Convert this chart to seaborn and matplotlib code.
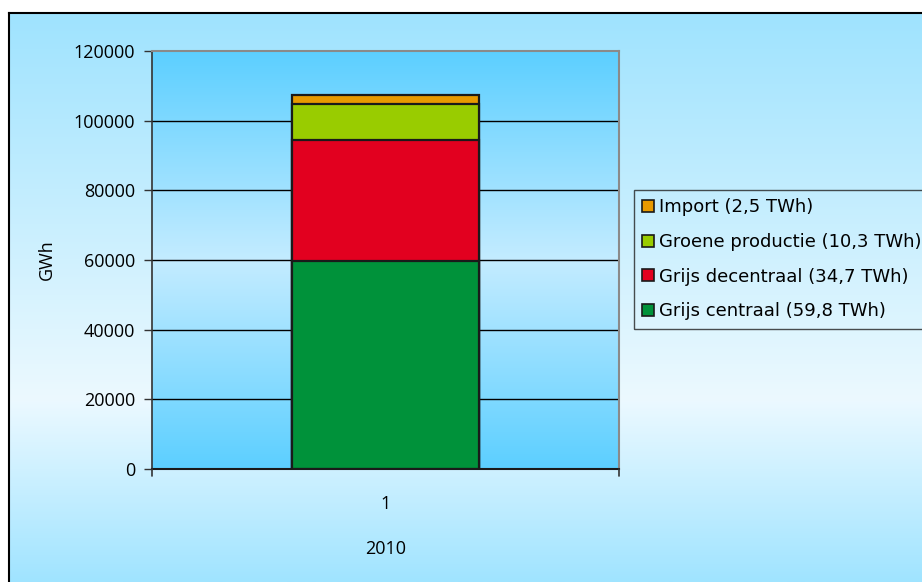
import numpy as np
import pandas as pd
import matplotlib
matplotlib.use("Agg")
import matplotlib.pyplot as plt
from matplotlib.colors import LinearSegmentedColormap
from matplotlib.patches import Patch
import seaborn as sns

# Electricity supply 2010, stacked by source (GWh)
categories = ["1"]
series_names = [
    "Grijs centraal (59,8 TWh)",
    "Grijs decentraal (34,7 TWh)",
    "Groene productie (10,3 TWh)",
    "Import (2,5 TWh)",
]
series_values = [59800, 34700, 10300, 2500]
series_colors = ["#00923a", "#e2001f", "#99cc00", "#e89a00"]
y_ticks = [0, 20000, 40000, 60000, 80000, 100000, 120000]

sns.set_theme(style="white")
plt.rcParams["font.family"] = ["Open Sans", "DejaVu Sans"]
plt.rcParams["text.color"] = "black"
plt.rcParams["axes.labelcolor"] = "black"
plt.rcParams["xtick.color"] = "black"
plt.rcParams["ytick.color"] = "black"

W, H = 922, 582
fig = plt.figure(figsize=(W / 100, H / 100), dpi=100)
fig.patch.set_facecolor("white")

# Outer chart area with vertical gradient and black frame (top/left)
bx0, by_top = 9, 13
bg = fig.add_axes([bx0 / W, 0, 1 - bx0 / W, 1 - by_top / H], zorder=0)
outer = LinearSegmentedColormap.from_list(
    "outer", [(0, "#9fe3fe"), (0.68, "#ecf9ff"), (1, "#a0e4ff")])
grad = np.linspace(0, 1, 256).reshape(-1, 1)
bg.imshow(grad, aspect="auto", cmap=outer, extent=[0, 1, 0, 1], origin="upper")
bg.set_xlim(0, 1)
bg.set_ylim(0, 1)
bg.set_xticks([])
bg.set_yticks([])
for side in ["right", "bottom"]:
    bg.spines[side].set_visible(False)
for side in ["top", "left"]:
    bg.spines[side].set_color("black")
    bg.spines[side].set_linewidth(1.5)

# Plot area
px0, px1, py0, py1 = 152, 619, 51, 469
ax = fig.add_axes([px0 / W, 1 - py1 / H, (px1 - px0) / W, (py1 - py0) / H], zorder=1)
inner = LinearSegmentedColormap.from_list(
    "inner", [(0, "#5ccfff"), (0.5, "#c4ecff"), (1, "#5ccfff")])
ax.imshow(grad, aspect="auto", cmap=inner, extent=[-0.5, 0.5, 0, 120000],
          origin="upper", zorder=0)

# Horizontal gridlines
for t in y_ticks[1:-1]:
    ax.axhline(t, color="black", lw=1.0, zorder=1)

# Stacked bar: draw cumulative totals from the top down
cum = np.cumsum(series_values)
for i in range(len(series_values) - 1, -1, -1):
    d = pd.DataFrame({"cat": categories, "total": [cum[i]]})
    sns.barplot(data=d, x="cat", y="total", color=series_colors[i],
                saturation=1, width=0.40, edgecolor="#1a1a1a", linewidth=1.6,
                ax=ax, zorder=2)

ax.set_xlim(-0.5, 0.5)
ax.set_ylim(0, 120000)
ax.set_yticks(y_ticks)
ax.set_yticklabels([str(t) for t in y_ticks], fontsize=13)
ax.set_xticks([0])
ax.set_xticklabels(categories, fontsize=13)
ax.tick_params(axis="y", length=6, width=1, color="#333333", pad=6, left=True)
ax.tick_params(axis="x", length=0, pad=19)
ax.set_ylabel("GWh", fontsize=13, labelpad=13)
ax.set_xlabel("2010", fontsize=13, labelpad=19)

ax.spines["left"].set_color("#333333")
ax.spines["left"].set_linewidth(1.2)
ax.spines["bottom"].set_color("#1a1a1a")
ax.spines["bottom"].set_linewidth(1.5)
for side in ["top", "right"]:
    ax.spines[side].set_visible(True)
    ax.spines[side].set_color("#8a8a8a")
    ax.spines[side].set_linewidth(1.5)

# small end ticks below the category axis
for xe in (-0.5, 0.5):
    ax.plot([xe, xe], [0, -2000], color="#333333", lw=1.2, clip_on=False, zorder=3)

# Legend (reverse order, top series first)
handles = [Patch(facecolor=c, edgecolor="#1a1a1a", linewidth=1.2)
           for c in series_colors][::-1]
leg = fig.legend(handles, series_names[::-1],
                 loc="upper left", bbox_to_anchor=(634 / W, 1 - 190 / H),
                 prop={"family": "DejaVu Sans", "size": 13},
                 frameon=True, fancybox=False, handlelength=0.65,
                 handleheight=0.65, handletextpad=0.3, labelspacing=0.93,
                 borderpad=0.45, borderaxespad=0)
leg.get_frame().set_facecolor("none")
leg.get_frame().set_edgecolor("#222222")
leg.get_frame().set_linewidth(1.0)
leg.set_zorder(5)

fig.savefig("out.png", dpi=100)
